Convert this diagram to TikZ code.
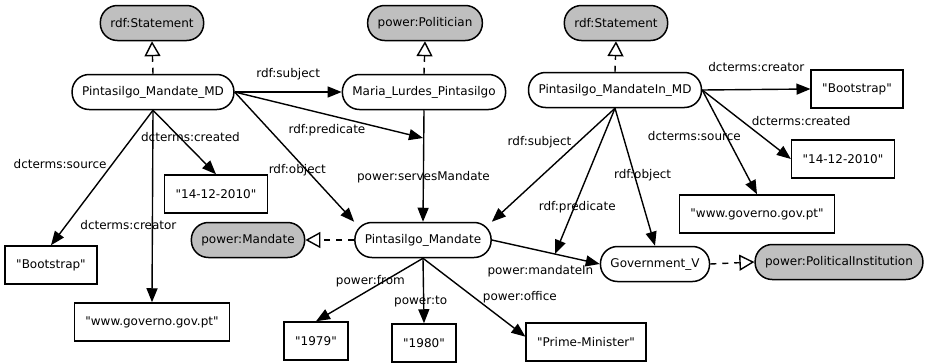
\documentclass[tikz,border=0pt]{standalone}
\usepackage{fontspec}
\setmainfont{DejaVu Sans}[Ligatures=TeXOff]
\usetikzlibrary{positioning}
\usetikzlibrary{arrows.meta}

\begin{document}
\begin{tikzpicture}[
          x=1pt, y=-1pt,
          every node/.style={font=\fontsize{12}{14}\selectfont},
          res/.style={draw, line width=1.5pt, rounded corners=17pt,
                      minimum height=35pt, inner xsep=10pt, fill=white},
          cls/.style={res, fill=black!25},
          lit/.style={draw, line width=1.5pt, minimum height=38pt, inner xsep=11pt},
          rel/.style={line width=1.4pt, -{Triangle[length=14pt,width=11pt]}},
          isa/.style={line width=1.4pt, dash pattern=on 6pt off 6pt,
                      -{Triangle[open,length=15pt,width=16pt,fill=white]}},
          lbl/.style={inner sep=1pt}
      ]
        \useasboundingbox (0,0) rectangle (929,364);
        % first statement about the mandate
        \node[cls] (st1)   at (152,23)  {rdf:Statement};
        \node[res] (md1)   at (153,92)  {Pintasilgo\_Mandate\_MD};
        \node[lit] (boot1) at (51,265)  {"Bootstrap"};
        \node[lit] (date1) at (216,194) {"14-12-2010"};
        \node[lit] (www1)  at (152,322) {"www.governo.gov.pt"};
        % politician and the mandate itself
        \node[cls] (pol)   at (425,23)  {power:Politician};
        \node[res] (maria) at (424,92)  {Maria\_Lurdes\_Pintasilgo};
        \node[res] (pm)    at (423,240) {Pintasilgo\_Mandate};
        \node[cls] (mand)  at (248,240) {power:Mandate};
        \node[lit] (y1979) at (316,341) {"1979"};
        \node[lit] (y1980) at (424,343) {"1980"};
        \node[lit] (pmin)  at (586,342) {"Prime-Minister"};
        % second statement about the mandate
        \node[cls] (st2)   at (616,23)  {rdf:Statement};
        \node[res] (md2)   at (615,90)  {Pintasilgo\_MandateIn\_MD};
        \node[lit] (boot2) at (857,89)  {"Bootstrap"};
        \node[lit] (date2) at (843,159) {"14-12-2010"};
        \node[lit] (www2)  at (757,214) {"www.governo.gov.pt"};
        \node[res] (gov)   at (655,264) {Government\_V};
        \node[cls] (inst)  at (839,262) {power:PoliticalInstitution};
        % points where predicates hit an edge
        \coordinate (serves) at (423,138);
        \coordinate (mandin) at (555,254);

        % types
        \draw[isa] (md1.north) -- (st1.south);
        \draw[isa] (maria.north) -- (pol.south);
        \draw[isa] (md2.north) -- (st2.south);
        \draw[isa] (pm.west) -- (mand.east);
        \draw[isa] (gov.east) -- (inst.west);
        % metadata of the first statement
        \draw[rel] (md1.south) -- node[lbl, pos=0.4, left=4pt] {dcterms:source} (boot1.north);
        \draw[rel] (md1.south) -- node[lbl, pos=0.42, xshift=11pt] {dcterms:created} (date1.north);
        \draw[rel] (md1.south) -- node[lbl, pos=0.6, xshift=-24pt] {dcterms:creator} (www1.north);
        \draw[rel] (md1.east) -- node[lbl, midway, above=10pt] {rdf:subject} (maria.west);
        \draw[rel] (md1.east) -- node[lbl, pos=0.49, below=8pt] {rdf:predicate} (serves);
        \draw[rel] (md1.east) -- node[lbl, pos=0.6, xshift=-9pt] {rdf:object} (pm.north west);
        \draw[rel] (maria.south) -- node[lbl, pos=0.6] {power:servesMandate} (pm.north);
        % metadata of the second statement
        \draw[rel] (md2.south) -- node[lbl, pos=0.3, left=5pt] {rdf:subject} (pm.north east);
        \draw[rel] (md2.south) -- node[lbl, pos=0.68, xshift=3pt] {rdf:predicate} (mandin);
        \draw[rel] (md2.south) -- node[lbl, pos=0.49, xshift=8pt] {rdf:object} (gov.north);
        \draw[rel] (md2.east) -- node[lbl, midway, above=16pt] {dcterms:creator} (boot2.west);
        \draw[rel] (md2.east) -- node[lbl, pos=0.45, right=8pt] {dcterms:created} (date2.west);
        \draw[rel] (md2.east) -- node[lbl, pos=0.44, xshift=-32pt] {dcterms:source} (www2.north);
        % properties of the mandate
        \draw[rel] (pm.east) -- node[lbl, pos=0.45, below=13pt] {power:mandateIn} (gov.west);
        \draw[rel] (pm.south) -- node[lbl, pos=0.37, xshift=-13pt] {power:from} (y1979.north);
        \draw[rel] (pm.south) -- node[lbl, pos=0.67, xshift=-3pt] {power:to} (y1980.north);
        \draw[rel] (pm.south) -- node[lbl, pos=0.49, right=8pt] {power:office} (pmin.175);
      \end{tikzpicture}
\end{document}
